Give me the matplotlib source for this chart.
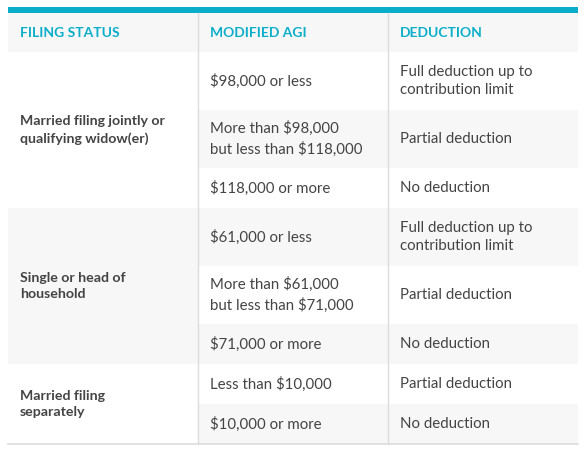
import matplotlib
matplotlib.use("Agg")
import matplotlib.pyplot as plt
import matplotlib.patches as mpatches

headers = ["FILING STATUS", "MODIFIED AGI", "DEDUCTION"]
groups = ["Married filing jointly or\nqualifying widow(er)",
          "Single or head of\nhousehold",
          "Married filing\nseparately"]
agi = [
    ["$98,000 or less", "More than $98,000\nbut less than $118,000", "$118,000 or more"],
    ["$61,000 or less", "More than $61,000\nbut less than $71,000", "$71,000 or more"],
    ["Less than $10,000", "$10,000 or more"],
]
deduction = [
    ["Full deduction up to\ncontribution limit", "Partial deduction", "No deduction"],
    ["Full deduction up to\ncontribution limit", "Partial deduction", "No deduction"],
    ["Partial deduction", "No deduction"],
]

W, H = 587, 453
LEFT, RIGHT = 8, 578
COLS = [LEFT, 198, 388, RIGHT]
TEAL = "#0aaecb"
GREY = "#f7f7f7"
TEXT = "#444444"
LINE = "#dcdcdc"

fig = plt.figure(figsize=(W / 100, H / 100), dpi=100)
ax = fig.add_axes([0, 0, 1, 1])
ax.set_xlim(0, W)
ax.set_ylim(H, 0)
ax.axis("off")
plt.rcParams["font.family"] = ["Lato", "DejaVu Sans"]

# header
ax.add_patch(mpatches.Rectangle((LEFT, 13), RIGHT - LEFT, 39, color=GREY, lw=0))
ax.add_patch(mpatches.Rectangle((LEFT, 7), RIGHT - LEFT, 6, color=TEAL, lw=0))
for i, h in enumerate(headers):
    ax.text(COLS[i] + 12, 33, h, color=TEAL, fontsize=10, fontweight="bold", va="center")

def row_h(txt):
    return 58 if "\n" in txt else 40

y = 52
shade = False  # alternates per sub-row
for g, label in enumerate(groups):
    heights = [max(row_h(a), row_h(d)) for a, d in zip(agi[g], deduction[g])]
    total = sum(heights)
    if g % 2 == 1:
        ax.add_patch(mpatches.Rectangle((LEFT, y), COLS[1] - LEFT, total, color=GREY, lw=0))
    ax.text(COLS[0] + 12, y + total / 2, label, color=TEXT, fontsize=10.2,
            fontweight="bold", va="center", linespacing=1.5)
    yy = y
    for k, hh in enumerate(heights):
        if shade:
            ax.add_patch(mpatches.Rectangle((COLS[1], yy), RIGHT - COLS[1], hh, color=GREY, lw=0))
        ax.text(COLS[1] + 12, yy + hh / 2, agi[g][k], color=TEXT, fontsize=10.8,
                va="center", linespacing=1.45)
        ax.text(COLS[2] + 12, yy + hh / 2, deduction[g][k], color=TEXT, fontsize=10.8,
                va="center", linespacing=1.45)
        yy += hh
        shade = not shade
    y += total

for x in COLS[1:3]:
    ax.plot([x, x], [13, y], color=LINE, lw=1)
ax.plot([LEFT, RIGHT], [y, y], color=LINE, lw=1.2)

fig.savefig("out.png", dpi=100, facecolor="white")
